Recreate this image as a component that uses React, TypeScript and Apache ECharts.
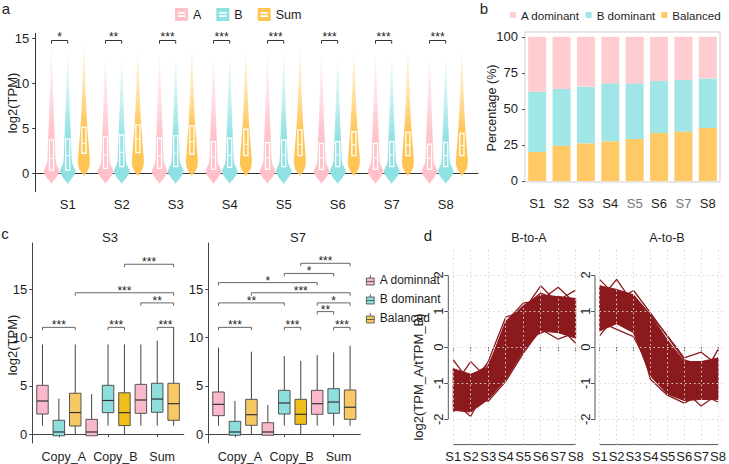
import React, { useEffect, useRef } from "react";
import * as echarts from "echarts";

// ================= DATA =================
// ---- panel a : violin plots ----
const samples = ["S1", "S2", "S3", "S4", "S5", "S6", "S7", "S8"];
const violinGroups = ["A", "B", "Sum"];
// [Q1, median, Q3] of log2(TPM) per sample
const violinQuartilesA = [[0.4, 1.7, 3.75], [0.6, 2.08, 4.1], [0.6, 1.97, 3.94], [0.48, 1.82, 3.57], [0.48, 1.78, 3.46], [0.48, 1.78, 3.38], [0.48, 1.78, 3.38], [0.48, 1.71, 3.27]];
const violinQuartilesB = [[0.4, 2.0, 3.87], [0.78, 2.38, 4.3], [0.78, 2.27, 4.2], [0.7, 2.04, 3.94], [0.78, 2.08, 3.75], [0.78, 2.08, 3.57], [0.78, 2.08, 3.57], [0.78, 2.0, 3.49]];
const violinQuartilesSum = [[2.27, 3.38, 5.17], [2.34, 3.83, 5.43], [2.19, 3.57, 5.3], [2.0, 3.27, 4.94], [2.0, 3.27, 4.87], [2.0, 3.2, 4.68], [2.0, 3.2, 4.6], [2.0, 3.12, 4.49]];
// maximum log2(TPM) (violin tip)
const violinTopA = [14.5, 13.1, 13.2, 13.4, 13.6, 13.5, 13.5, 13.2];
const violinTopB = [13.6, 12.5, 12.9, 13.0, 13.6, 12.7, 12.9, 12.9];
const violinTopSum = [15.0, 13.8, 14.0, 13.8, 14.0, 13.8, 13.8, 13.7];
// density profile: [log2(TPM), relative density]
const densityA = [[-1.15, 0], [-0.85, 0.22], [-0.5, 0.55], [-0.1, 0.88], [0.3, 1], [0.7, 0.82], [1.1, 0.6], [1.6, 0.52], [2.5, 0.48], [3.5, 0.44], [5, 0.37], [6, 0.32], [8, 0.25], [10, 0.17], [12, 0.1]];
const densityB = [[-1.15, 0], [-0.85, 0.22], [-0.5, 0.55], [-0.1, 0.88], [0.3, 1], [0.7, 0.82], [1.1, 0.6], [1.6, 0.52], [2.5, 0.47], [3.5, 0.43], [5, 0.36], [6, 0.31], [8, 0.24], [10, 0.16], [12, 0.09]];
const densitySum = [[-0.25, 0], [0.1, 0.3], [0.5, 0.58], [1.0, 0.74], [1.5, 0.76], [2.0, 0.72], [3.0, 0.63], [4.0, 0.54], [5.0, 0.45], [6.0, 0.38], [8.0, 0.27], [10, 0.18], [12, 0.1]];
const violinSig = ["*", "**", "***", "***", "***", "***", "***", "***"];
const violinSigLevel = 14.8;
const violinYTicks = [0, 5, 10, 15];

// ---- panel b : stacked percentages ----
const dominanceGroups = ["A dominant", "B dominant", "Balanced"];
const pctADominant = [38.1, 36.3, 34.6, 32.3, 32.3, 30.7, 30.0, 28.9];
const pctBDominant = [41.8, 39.2, 39.3, 40.2, 38.6, 36.0, 35.6, 34.4];
const pctBalanced = [20.1, 24.5, 26.1, 27.5, 29.1, 33.3, 34.4, 36.7];
const pctTicks = [0, 25, 50, 75, 100];

// ---- panel c : boxplots ----
const copyGroups = ["Copy_A", "Copy_B", "Sum"];
const boxLegendNames = ["A dominnat", "B dominant", "Balanced"];
// per box (order: Copy_A[A,B,Bal], Copy_B[A,B,Bal], Sum[A,B,Bal]): [min, Q1, median, Q3, max]
const boxStatsS3 = [
  [0.9, 2.1, 3.45, 5.07, 9.3],
  [-0.15, -0.15, 0.24, 1.45, 3.7],
  [-0.07, 0.86, 2.25, 4.25, 9.3],
  [-0.15, -0.15, 0.24, 1.55, 4.17],
  [0.9, 2.24, 3.5, 5.07, 9.3],
  [-0.07, 0.9, 2.24, 4.3, 9.3],
  [0.9, 2.17, 3.55, 5.17, 9.3],
  [0.9, 2.28, 3.65, 5.28, 9.7],
  [0.9, 1.45, 3.17, 5.28, 11.1],
];
const boxStatsS7 = [
  [0.9, 1.93, 3.1, 4.38, 8.97],
  [-0.1, -0.1, 0.24, 1.34, 3.45],
  [0.0, 0.93, 2.03, 3.62, 8.55],
  [-0.1, -0.1, 0.24, 1.2, 3.03],
  [0.9, 2.1, 3.24, 4.55, 8.1],
  [0.0, 1.03, 2.07, 3.62, 7.6],
  [0.9, 2.07, 3.17, 4.55, 8.2],
  [0.9, 2.17, 3.34, 4.72, 8.48],
  [0.9, 1.55, 2.8, 4.59, 9.17],
];
// [from box, to box, level, label]
const bracketsS3 = [
  [1, 3, 11.07, "***"], [5, 6, 11.07, "***"], [8, 9, 11.07, "***"],
  [7, 9, 13.6, "**"], [3, 9, 14.65, "***"], [6, 9, 17.6, "***"],
];
const bracketsS7 = [
  [1, 3, 11.07, "***"], [5, 6, 11.07, "***"], [8, 9, 11.07, "***"],
  [7, 8, 12.7, "**"], [7, 9, 13.6, "*"], [1, 5, 13.6, "**"],
  [3, 9, 14.65, "***"], [1, 7, 15.7, "*"], [5, 8, 16.65, "*"], [6, 9, 17.7, "***"],
];
const boxYTicks = [0, 5, 10, 15];

// ---- panel d : log2(TPM_A/TPM_B) profiles ----
const ratioTicks = [-2, -1, 0, 1, 2];
const coreUpperBA = [-0.6, -0.75, -0.55, 0.7, 1.15, 1.45, 1.4, 1.35];
const coreLowerBA = [-1.75, -1.8, -1.45, -0.9, -0.12, 0.45, 0.4, 0.25];
const linesBA = [
  [-0.35, -1.0, -0.8, 0.2, 0.9, 1.1, 1.0, 0.9],
  [-1.1, -0.4, -0.9, 0.0, 0.8, 1.2, 0.9, 1.0],
  [-1.8, -1.3, -1.2, -0.5, 0.3, 0.9, 0.8, 0.7],
  [-1.5, -1.92, -1.0, -0.3, 0.5, 0.8, 1.0, 0.8],
  [-1.0, -1.1, -0.4, 0.83, 1.0, 1.7, 1.2, 1.1],
  [-0.9, -0.9, -0.6, 0.7, 1.22, 1.3, 1.66, 1.2],
  [-1.2, -1.3, -1.5, -0.95, -0.17, 0.5, 0.22, 0.4],
  [-1.3, -1.4, -1.2, -0.6, 0.2, 0.39, 0.6, 0.11],
  [-0.8, -1.0, -0.7, 0.4, 1.1, 1.5, 1.3, 1.58],
  [-1.6, -1.2, -1.3, -0.7, 0.1, 0.7, 0.45, 0.6],
  [-1.1, -1.5, -1.1, -0.2, 0.6, 1.0, 0.9, 0.9],
  [-0.6, -0.8, -0.5, 0.5, 1.0, 1.4, 1.4, 1.3],
];
const coreUpperAB = [1.7, 1.6, 1.45, 0.9, 0.2, -0.4, -0.4, -0.3];
const coreLowerAB = [0.45, 0.65, 0.4, -0.8, -1.3, -1.48, -1.45, -1.45];
const linesAB = [
  [1.87, 1.4, 1.3, 0.7, 0.0, -0.6, -0.8, -0.7],
  [1.3, 1.88, 1.2, 0.6, -0.1, -0.7, -0.7, -0.9],
  [0.32, 0.9, 0.6, -0.4, -1.1, -1.2, -1.0, -1.1],
  [0.7, 0.49, 0.29, -0.6, -1.0, -1.3, -1.2, -1.2],
  [1.5, 1.3, 1.57, 0.95, 0.3, -0.35, -0.5, -0.6],
  [1.2, 1.1, 1.0, 0.9, 0.32, -0.3, -0.14, -0.5],
  [0.9, 1.0, 0.8, -0.89, -1.33, -1.55, -1.3, -1.52],
  [1.0, 0.8, 0.5, -0.3, -1.0, -1.2, -1.63, -1.3],
  [1.4, 1.2, 0.9, 0.2, -0.5, -0.8, -0.9, -0.06],
  [1.1, 1.3, 1.1, 0.4, -0.3, -1.0, -0.5, -0.3],
  [0.6, 0.9, 0.7, -0.2, -0.8, -1.1, -1.2, -1.0],
  [1.7, 1.5, 1.2, 0.5, -0.2, -0.9, -1.0, -0.8],
];

// ================= STYLE =================
const FONT = "'Liberation Sans', Arial, Helvetica, sans-serif";
const TXT = "#1e1e1e";
const AXIS = "#333333";
const violinColors = ["#FFC0C9", "#8FE1E3", "#FFC452"];
const barColors = ["#FFCCD1", "#A0E6E6", "#FFC965"];
const boxColors = ["#F9B9CB", "#8EDEDE", "#F7C864"];
const boxOverrideColor: any = { 6: "#EFBE1C" };
const RED = "#8B1A1E";
const VIOLIN_OFFSETS = [-0.3, 0, 0.3];
const VIOLIN_HALF = 0.145;
const VIOLIN_BOX_HALF = 0.038;
const BOX_HALF = 0.35;
const cLabelPos = [2.3, 5.45, 8.3];
const cTickPos = [2, 5, 8];

function alpha(hex: string, a: number) {
  const n = parseInt(hex.slice(1), 16);
  return `rgba(${(n >> 16) & 255},${(n >> 8) & 255},${n & 255},${a})`;
}

const samplePos = samples.map((_, i) => i + 1);
const violinQuartiles = [violinQuartilesA, violinQuartilesB, violinQuartilesSum];
const violinTops = [violinTopA, violinTopB, violinTopSum];
const densities = [densityA, densityB, densitySum];

function buildOption(): any {
  const txt = (size: number, color = TXT) => ({ fontSize: size, color, fontFamily: FONT });

  // ---- panel a series ----
  const violinSeries = violinGroups.map((g, gi) => ({
    type: "custom",
    name: g,
    xAxisIndex: 0,
    yAxisIndex: 0,
    itemStyle: { color: violinColors[gi] },
    data: samples.map((_, i) => [i + 1, ...violinQuartiles[gi][i], violinTops[gi][i]]),
    encode: { x: 0, y: [1, 2, 3, 4] },
    renderItem: (params: any, api: any) => {
      const xc = api.value(0) + VIOLIN_OFFSETS[gi];
      const q1 = api.value(1), med = api.value(2), q3 = api.value(3), top = api.value(4);
      const prof = densities[gi].filter((p) => p[0] < top);
      const right = prof.map(([y, d]) => api.coord([xc + d * VIOLIN_HALF, y]));
      right.push(api.coord([xc, top]));
      const left = prof.slice().reverse().map(([y, d]) => api.coord([xc - d * VIOLIN_HALF, y]));
      const pts = [...right, ...left];
      const c = violinColors[gi];
      const b1 = api.coord([xc - VIOLIN_BOX_HALF, q3]);
      const b2 = api.coord([xc + VIOLIN_BOX_HALF, q1]);
      const m1 = api.coord([xc - VIOLIN_BOX_HALF, med]);
      const m2 = api.coord([xc + VIOLIN_BOX_HALF, med]);
      return {
        type: "group",
        children: [
          {
            type: "polygon",
            shape: { points: pts, smooth: 0.2 },
            style: {
              fill: new echarts.graphic.LinearGradient(0, 0, 0, 1, [
                { offset: 0, color: alpha(c, 0.1) },
                { offset: 0.35, color: alpha(c, 0.5) },
                { offset: 0.62, color: alpha(c, 0.95) },
                { offset: 1, color: c },
              ]),
              stroke: "none",
            },
          },
          {
            type: "rect",
            shape: { x: b1[0], y: b1[1], width: b2[0] - b1[0], height: b2[1] - b1[1] },
            style: { fill: "none", stroke: "#ffffff", lineWidth: 1.3 },
          },
          {
            type: "line",
            shape: { x1: m1[0], y1: m1[1], x2: m2[0], y2: m2[1] },
            style: { stroke: "#ffffff", lineWidth: 1 },
          },
        ],
      };
    },
  }));

  const violinBrackets = {
    type: "custom",
    name: "sigA",
    xAxisIndex: 0,
    yAxisIndex: 0,
    silent: true,
    data: samples.map((_, i) => [i + 1, violinSigLevel]),
    encode: { x: 0, y: 1 },
    renderItem: (params: any, api: any) => {
      const x = api.value(0);
      const lv = api.value(1);
      const xa = x + VIOLIN_OFFSETS[0], xb = x + VIOLIN_OFFSETS[1];
      const p1 = api.coord([xa, lv - 0.35]);
      const p2 = api.coord([xa, lv]);
      const p3 = api.coord([xb, lv]);
      const p4 = api.coord([xb, lv - 0.35]);
      const mid = api.coord([(xa + xb) / 2, lv]);
      return {
        type: "group",
        children: [
          { type: "polyline", shape: { points: [p1, p2, p3, p4] }, style: { stroke: "#333", lineWidth: 1, fill: "none" } },
          {
            type: "text",
            x: mid[0],
            y: mid[1] - 4,
            style: { text: violinSig[params.dataIndex], fill: "#222", fontSize: 12, fontFamily: FONT, align: "center", verticalAlign: "middle" },
          },
        ],
      };
    },
  };

  // ---- panel b series ----
  const pctData = [pctBalanced, pctBDominant, pctADominant];
  const pctNames = [dominanceGroups[2], dominanceGroups[1], dominanceGroups[0]];
  const pctColors = [barColors[2], barColors[1], barColors[0]];
  const barSeries = pctData.map((arr, k) => ({
    type: "bar",
    name: pctNames[k],
    xAxisIndex: 1,
    yAxisIndex: 1,
    stack: "pct",
    barWidth: 18,
    itemStyle: { color: pctColors[k] },
    data: arr,
  }));

  // ---- panel c series ----
  const boxSeries: any[] = [];
  const bracketSeries: any[] = [];
  [boxStatsS3, boxStatsS7].forEach((stats, pi) => {
    boxLegendNames.forEach((nm, gi) => {
      const items = stats
        .map((s, bi) => [bi + 1, ...s])
        .filter((row) => ((row[0] as number) - 1) % 3 === gi);
      boxSeries.push({
        type: "custom",
        name: nm,
        xAxisIndex: 2 + pi,
        yAxisIndex: 2 + pi,
        itemStyle: { color: boxColors[gi] },
        data: items,
        encode: { x: 0, y: [1, 2, 3, 4, 5] },
        renderItem: (params: any, api: any) => {
          const pos = api.value(0);
          const lo = api.value(1), q1 = api.value(2), med = api.value(3), q3 = api.value(4), hi = api.value(5);
          const fill = boxOverrideColor[pos] || boxColors[gi];
          const wTop1 = api.coord([pos, q3]), wTop2 = api.coord([pos, hi]);
          const wBot1 = api.coord([pos, q1]), wBot2 = api.coord([pos, lo]);
          const r1 = api.coord([pos - BOX_HALF, q3]), r2 = api.coord([pos + BOX_HALF, q1]);
          const m1 = api.coord([pos - BOX_HALF, med]), m2 = api.coord([pos + BOX_HALF, med]);
          return {
            type: "group",
            children: [
              { type: "line", shape: { x1: wTop1[0], y1: wTop1[1], x2: wTop2[0], y2: wTop2[1] }, style: { stroke: "#444", lineWidth: 1 } },
              { type: "line", shape: { x1: wBot1[0], y1: wBot1[1], x2: wBot2[0], y2: wBot2[1] }, style: { stroke: "#444", lineWidth: 1 } },
              { type: "rect", shape: { x: r1[0], y: r1[1], width: r2[0] - r1[0], height: r2[1] - r1[1] }, style: { fill, stroke: "#444", lineWidth: 0.9 } },
              { type: "line", shape: { x1: m1[0], y1: m1[1], x2: m2[0], y2: m2[1] }, style: { stroke: "#333", lineWidth: 1.2 } },
            ],
          };
        },
      });
    });
    const br = pi === 0 ? bracketsS3 : bracketsS7;
    bracketSeries.push({
      type: "custom",
      name: "sigC" + pi,
      xAxisIndex: 2 + pi,
      yAxisIndex: 2 + pi,
      silent: true,
      data: br.map((b) => [b[0], b[1], b[2]]),
      encode: { x: [0, 1], y: 2 },
      renderItem: (params: any, api: any) => {
        const a = api.value(0), b = api.value(1), lv = api.value(2);
        const p1 = api.coord([a, lv - 0.3]), p2 = api.coord([a, lv]);
        const p3 = api.coord([b, lv]), p4 = api.coord([b, lv - 0.3]);
        const mid = api.coord([(a + b) / 2, lv]);
        return {
          type: "group",
          children: [
            { type: "polyline", shape: { points: [p1, p2, p3, p4] }, style: { stroke: "#666", lineWidth: 1, fill: "none" } },
            {
              type: "text",
              x: mid[0],
              y: mid[1] - 2,
              style: { text: br[params.dataIndex][3], fill: "#222", fontSize: 12, fontFamily: FONT, align: "center", verticalAlign: "middle" },
            },
          ],
        };
      },
    });
  });

  // ---- panel d series ----
  const dSeries: any[] = [];
  [[coreUpperBA, coreLowerBA, linesBA], [coreUpperAB, coreLowerAB, linesAB]].forEach((set: any, pi) => {
    const [up, low, lines] = set;
    dSeries.push({
      type: "custom",
      name: "band" + pi,
      xAxisIndex: 4 + pi,
      yAxisIndex: 4 + pi,
      silent: true,
      data: [[1, 0]],
      renderItem: (params: any, api: any) => {
        const pts = [
          ...up.map((v: number, i: number) => api.coord([samplePos[i], v])),
          ...low.map((v: number, i: number) => api.coord([samplePos[i], v])).reverse(),
        ];
        return { type: "polygon", shape: { points: pts }, style: { fill: RED, stroke: RED, lineWidth: 1 } };
      },
    });
    lines.forEach((ln: number[], li: number) => {
      const s: any = {
        type: "line",
        name: "ratio" + pi + "_" + li,
        xAxisIndex: 4 + pi,
        yAxisIndex: 4 + pi,
        silent: true,
        symbol: "none",
        lineStyle: { color: RED, width: 1.3 },
        data: ln.map((v, i) => [samplePos[i], v]),
      };
      if (li === lines.length - 1) {
        s.markLine = {
          silent: true,
          symbol: ["none", "none"],
          label: { show: false },
          emphasis: { disabled: true },
          lineStyle: { type: [1.5, 3], color: "#d6d6d6", width: 1 },
          data: [...ratioTicks.map((v) => ({ yAxis: v })), ...samplePos.map((v) => ({ xAxis: v }))],
        };
      }
      dSeries.push(s);
    });
  });

  const sampleFmt = (v: number) => samples[Math.round(v) - 1] || "";

  const xAxes: any[] = [
    {
      gridIndex: 0, type: "value", min: 0.4, max: 8.6,
      axisLine: { show: true, lineStyle: { color: AXIS, width: 1 } },
      axisTick: { show: true, customValues: samplePos, length: 3, lineStyle: { color: AXIS } },
      axisLabel: { customValues: samplePos, formatter: sampleFmt, margin: 6, ...txt(13) },
      splitLine: { show: false },
    },
    {
      gridIndex: 1, type: "category", data: samples, boundaryGap: true,
      axisLine: { show: false },
      axisTick: { show: false },
      axisLabel: {
        interval: 0,
        formatter: (s: string) => (s === "S5" || s === "S7" ? `{g|${s}}` : `{k|${s}}`),
        margin: 15,
        rich: { g: { ...txt(13, "#777") }, k: { ...txt(13) } },
      },
      splitLine: { show: false },
    },
    ...[0, 1].map((pi) => ({
      gridIndex: 2 + pi, type: "value", min: 0.38, max: 9.62,
      axisLine: { show: true, lineStyle: { color: "#444", width: 1 } },
      axisTick: { show: true, customValues: cTickPos, length: 3, lineStyle: { color: "#444" } },
      axisLabel: {
        customValues: cLabelPos,
        formatter: (v: number) => copyGroups[cLabelPos.findIndex((p) => Math.abs(p - v) < 0.01)] || "",
        margin: 7,
        ...txt(12.5),
      },
      splitLine: { show: false },
    })),
    ...[0, 1].map((pi) => ({
      gridIndex: 4 + pi, type: "value", min: 0.72, max: 8.28,
      axisLine: { show: false },
      axisTick: { show: true, customValues: samplePos, length: 4, lineStyle: { color: "#555" } },
      axisLabel: { customValues: samplePos, formatter: sampleFmt, margin: 5, ...txt(13, "#222") },
      splitLine: { show: false },
    })),
  ];

  const yAxes: any[] = [
    {
      gridIndex: 0, type: "value", min: -2, max: 15.6,
      axisLine: { show: true, lineStyle: { color: AXIS, width: 1 } },
      axisTick: { show: true, customValues: violinYTicks, length: 3, lineStyle: { color: AXIS } },
      axisLabel: { customValues: violinYTicks, margin: 6, ...txt(13) },
      splitLine: { show: false },
    },
    {
      gridIndex: 1, type: "value", min: -0.7, max: 103.3,
      axisLine: { show: false },
      axisTick: { show: true, customValues: pctTicks, length: 3, lineStyle: { color: "#555" } },
      axisLabel: { customValues: pctTicks, margin: 7, ...txt(13) },
      splitLine: { show: false },
    },
    ...[0, 1].map((pi) => ({
      gridIndex: 2 + pi, type: "value", min: -0.9, max: 19.8,
      axisLine: { show: true, lineStyle: { color: "#444", width: 1 } },
      axisTick: { show: true, customValues: boxYTicks, length: 3, lineStyle: { color: "#444" } },
      axisLabel: { customValues: boxYTicks, margin: 5, ...txt(13) },
      splitLine: { show: false },
    })),
    ...[0, 1].map((pi) => ({
      gridIndex: 4 + pi, type: "value", min: -2.7, max: 2.7,
      axisLine: { show: false },
      axisTick: { show: true, customValues: ratioTicks, length: 4, lineStyle: { color: "#555" } },
      axisLabel: { customValues: ratioTicks, rotate: 90, margin: 3, ...txt(13, "#222") },
      splitLine: { show: false },
    })),
  ];

  const violinIcon = "path://M0,0H14V14H0Z M3,4.3V6.1H11V4.3Z M3,7.9V9.7H11V7.9Z";
  const boxIcon = "path://M4.5,0V3 M0.6,3H8.4V10H0.6Z M0.6,6.5H8.4";

  return {
    animation: false,
    backgroundColor: "#ffffff",
    textStyle: { fontFamily: FONT },
    grid: [
      { left: 35.3, top: 33.3, width: 442.8, height: 158.4 },
      { left: 525, top: 32, width: 195, height: 150, show: true, borderColor: "#cfcfcf", borderWidth: 1, backgroundColor: "transparent" },
      { left: 32.3, top: 243, width: 151.5, height: 200 },
      { left: 208.3, top: 243, width: 152, height: 200 },
      { left: 448.3, top: 249.7, width: 132.3, height: 194.9 },
      { left: 595, top: 249.7, width: 131.5, height: 194.9 },
    ],
    xAxis: xAxes,
    yAxis: yAxes,
    legend: [
      {
        left: 170, top: 3, itemWidth: 13, itemHeight: 13, itemGap: 15, selectedMode: false,
        textStyle: txt(12.5),
        data: violinGroups.map((g, gi) => ({ name: g, icon: violinIcon, itemStyle: { color: violinColors[gi] } })),
      },
      {
        left: 510, top: 9, itemWidth: 6, itemHeight: 6, itemGap: 6, selectedMode: false, padding: 0,
        textStyle: txt(11.6),
        data: dominanceGroups.map((g, gi) => ({ name: g, icon: "rect", itemStyle: { color: barColors[gi] } })),
      },
      {
        orient: "vertical", left: 361, top: 269, itemWidth: 9, itemHeight: 10, itemGap: 7, selectedMode: false,
        textStyle: txt(12),
        data: boxLegendNames.map((g, gi) => ({
          name: g, icon: boxIcon,
          itemStyle: { color: boxColors[gi], borderColor: "#444", borderWidth: 0.8 },
        })),
      },
    ],
    series: [...violinSeries, violinBrackets, ...barSeries, ...boxSeries, ...bracketSeries, ...dSeries],
  };
}

function staticTexts(): any[] {
  const t = (text: string, x: number, y: number, size: number, rot = 0, extra: any = {}) => ({
    type: "text",
    x, y, rotation: rot,
    silent: true,
    style: { text, fill: TXT, fontSize: size, fontFamily: FONT, align: "center", verticalAlign: "middle", ...extra },
  });
  const R = Math.PI / 2;
  return [
    t("a", 6, 8, 15),
    t("b", 484, 8, 15),
    t("c", 5, 233, 15),
    t("d", 428, 235, 15),
    t("log2(TPM)", 12, 103, 13, R),
    t("Percentage (%)", 492, 108, 12.5, R),
    t("log2(TPM)", 12, 345, 13, R),
    t("log2(TPM_A/tTPM_B)", 418, 377, 13, R),
    t("S3", 110, 237, 13),
    t("S7", 298, 237, 13),
    t("B-to-A", 529, 238, 12.5),
    t("A-to-B", 667, 238, 12.5),
  ];
}

export default function App() {
  const ref = useRef<HTMLDivElement>(null);
  useEffect(() => {
    document.body.style.margin = "0";
    const chart = echarts.init(ref.current!, null, { renderer: "svg" });
    chart.setOption(buildOption());
    const axisLines: any[] = [];
    [4, 5].forEach((gi) => {
      const a = chart.convertToPixel({ gridIndex: gi } as any, [1, -2.7]) as any;
      const b = chart.convertToPixel({ gridIndex: gi } as any, [8, -2.7]) as any;
      const c = chart.convertToPixel({ gridIndex: gi } as any, [0.72, -2]) as any;
      const d = chart.convertToPixel({ gridIndex: gi } as any, [0.72, 2]) as any;
      axisLines.push({ type: "line", silent: true, shape: { x1: a[0], y1: a[1], x2: b[0], y2: b[1] }, style: { stroke: "#555", lineWidth: 1 } });
      axisLines.push({ type: "line", silent: true, shape: { x1: c[0], y1: c[1], x2: d[0], y2: d[1] }, style: { stroke: "#555", lineWidth: 1 } });
    });
    chart.setOption({ graphic: [...staticTexts(), ...axisLines] });
    return () => chart.dispose();
  }, []);
  return <div ref={ref} style={{ position: "fixed", left: 0, top: 0, width: 729, height: 464 }} />;
}
